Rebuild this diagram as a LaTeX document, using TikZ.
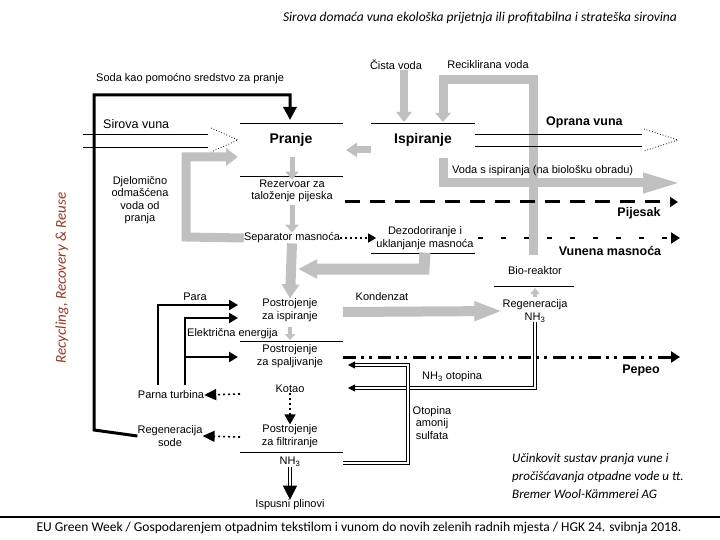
\documentclass[tikz,border=0pt]{standalone}
\usepackage{fontspec}
\setmainfont{Liberation Sans}
\newfontfamily\califont{Carlito}
\usepackage{tikz}
\usetikzlibrary{arrows.meta}
\usetikzlibrary{calc}
\definecolor{flowgray}{RGB}{192,192,192}
\definecolor{rrrcolor}{RGB}{150,55,40}

\begin{document}
\begin{tikzpicture}
[x=1pt,y=-1pt,
  lbl/.style={font=\fontsize{11}{12.5}\selectfont,inner sep=0pt,align=center},
  blbl/.style={font=\fontsize{12.5}{14}\selectfont\bfseries,inner sep=0pt},
  stage/.style={font=\fontsize{14}{16}\selectfont\bfseries,inner sep=0pt},
  boxline/.style={line width=0.9pt},
  grayline/.style={draw=flowgray,line width=#1},
  smallgray/.style={draw=flowgray,line width=5pt,-{Triangle[length=8pt,width=13pt]}},
  blackflow/.style={line width=2.5pt,-{Triangle[length=9pt,width=10pt]}},
  dotflow/.style={line width=1.6pt,dash pattern=on 2pt off 3pt,-{Triangle[length=12pt,width=11pt]}},
  twinline/.style={double,line width=0.8pt,double distance=1.6pt},
  sandflow/.style={line width=3pt,dash pattern=on 15pt off 10pt,-{Triangle[length=8pt,width=10pt]}},
  greaseflow/.style={line width=2pt,dash pattern=on 5pt off 18pt,-{Triangle[length=9pt,width=11pt]}},
  ashflow/.style={line width=3pt,dash pattern=on 13pt off 5pt on 3pt off 5pt on 3pt off 6pt,-{Triangle[length=9pt,width=11pt]}},
  woolline/.style={line width=0.9pt},
  woolhead/.style={dotted,line width=0.8pt}]
\useasboundingbox (0,0) rectangle (720,540);
%% headings
\node[font=\califont\itshape\fontsize{13.5}{15}\selectfont] (naslov) at (480,18)
  {Sirova domaća vuna ekološka prijetnja ili profitabilna i strateška sirovina};
\node[rotate=90,font=\califont\itshape\fontsize{15}{17}\selectfont,text=rrrcolor] (rrr) at (62,278)
  {Recycling, Recovery \& Reuse};
%% gray flows (drawn first)
\draw[grayline=9pt,-{Triangle[length=9pt,width=15pt]}] (533,255) -- (533,80) -- (443,80) -- (443,122);
\draw[grayline=9pt,-{Triangle[length=40pt,width=18pt]}] (443,158) -- (443,183) -- (683,183);
%% stages
\node[stage] (pranje) at (291,140) {Pranje};
\node[stage] (ispir) at (423,140) {Ispiranje};
\foreach \name/\x/\y/\txt in {
  rez/292/191/{Rezervoar za\\taloženje pijeska},
  separ/292/238/{Separator masnoća},
  dezod/425/238/{Dezodoriranje i\\uklanjanje masnoća},
  postisp/290/310/{Postrojenje\\za ispiranje},
  postspa/290/356/{Postrojenje\\za spaljivanje},
  kotao/290/389/{Kotao},
  postfil/290/436/{Postrojenje\\za filtriranje},
  nhtri/290/462/{NH\textsubscript{3}},
  plinovi/290/505/{Ispusni plinovi},
  bioreak/535/271/{Bio-reaktor},
  regnh/535/311/{Regeneracija\\NH\textsubscript{3}},
  turbina/171/395/{Parna turbina},
  regsoda/170/436/{Regeneracija\\sode},
  djelom/140/200/{Djelomično\\odmašćena\\voda od\\pranja},
  para/195/297/{Para},
  kondenz/382/297/{Kondenzat},
  cista/396/65/{Čista voda},
  recikl/488/65/{Reciklirana voda},
  otopina/432/423/{Otopina\\amonij\\sulfata}}
{
  \node[lbl] (\name) at (\x,\y) {\txt};
}
\node[lbl,anchor=west] (soda) at (96,79) {Soda kao pomoćno sredstvo za pranje};
\node[lbl,anchor=west] (elen) at (187,334) {Električna energija};
\node[lbl,anchor=west] (ispvoda) at (452,171) {Voda s ispiranja (na biološku obradu)};
\node[lbl,anchor=west] (nhotop) at (422,377) {NH\textsubscript{3} otopina};
\node[font=\fontsize{12.5}{14}\selectfont,inner sep=0pt,anchor=west] (sirova) at (103,124) {Sirova vuna};
\node[blbl,anchor=west] (oprana) at (546,122) {Oprana vuna};
\node[blbl] (pijesak) at (639,213) {Pijesak};
\node[blbl] (masnoca) at (610,251) {Vunena masnoća};
\node[blbl] (pepeo) at (641,370) {Pepeo};
%% box lines
\foreach \xa/\xb/\y in {240/343/123, 371/475/123, 240/343/176, 371/475/253,
  494/574/286, 240/343/341, 240/343/452}
{
  \draw[boxline] (\xa,\y) -- (\xb,\y);
}
%% gray flows between stages
\draw[grayline=8pt,-{Triangle[length=10pt,width=15pt]}] (cista.south -| 404,0) -- (404,122);
\draw[grayline=7pt,-{Triangle[length=11pt,width=14pt]}] (371,150) -- (346,150);
\draw[smallgray] (292,157) -- (rez.north);
\draw[smallgray] (rez.south) ++(0,3) -- (separ.north);
\draw[grayline=10pt,-{Triangle[length=14pt,width=17pt]}] (separ.south) -- (postisp.north);
\draw[grayline=9pt,-{Triangle[length=12pt,width=17pt]}] (separ.west) -- (186,237) -- (186,157) -- (238,157);
\draw[grayline=11pt,-{Triangle[length=19pt,width=18pt]}] (dezod.south) ++(0,3) -- (424,269) -- (298,269);
\draw[grayline=4pt,-{Triangle[length=6pt,width=10pt]}] (290,327) -- (290,340);
\draw[grayline=10pt,-{Triangle[length=28pt,width=18pt]}] (343,312) -- (regnh.west);
\draw[grayline=4pt,-{Triangle[length=6pt,width=9pt]}] (535,297) -- (535,288);
%% wool in and out
\draw[woolline] (83,134) -- (208,134) (83,147) -- (208,147);
\draw[woolhead] (211,128) -- (238,140) -- (211,152);
\draw[woolline] (475,134) -- (642,134) (475,146) -- (642,146);
\draw[woolhead] (644,129) -- (678,140) -- (644,151);
%% soda loop
\draw[line width=3pt,-{Triangle[length=13pt,width=13pt]}] (regsoda.west) -- (94,430) -- (94,95) -- (290,95) -- (290,120);
%% steam and electricity
\draw[blackflow] (158,385) -- (158,305) -- (238,305);
\draw[blackflow] (185,385) -- (185,318) -- (238,318);
\draw[blackflow] (185,357) -- (238,357);
%% dotted links
\draw[dotflow] (240,394) -- (turbina.east);
\draw[dotflow] (240,437) -- (regsoda.east);
\draw[dotflow,-{Triangle[length=10pt,width=11pt]}] (kotao.south) -- (postfil.north);
\draw[line width=1.4pt,dash pattern=on 2pt off 3pt,-{Triangle[length=8pt,width=9pt]}] (separ.east) -- (dezod.west |- separ.east);
%% ammonia loops
\draw[twinline,-{Triangle[length=7pt,width=7pt]}] (regnh.south) -- (535,388) -- (348,388);
\draw[twinline,-{Triangle[length=7pt,width=7pt]}] (343,463) -- (408,463) -- (408,365) -- (348,365);
\draw[twinline,line width=1pt,double distance=2.5pt,-{Triangle[length=14pt,width=14pt]}] (nhtri.south) -- (plinovi.north);
%% residues
\draw[sandflow] (345,202) -- (678,202);
\draw[greaseflow] (478,238) -- (680,238);
\draw[ashflow] (343,357) -- (680,357);
%% caption and footer
\node[font=\califont\itshape\fontsize{13}{18}\selectfont,align=left,inner sep=0pt,anchor=north west] (opis) at (512,453)
  {Učinkovit sustav pranja vune i\\pročišćavanja otpadne vode u tt.\\Bremer Wool-Kämmerei AG};
\draw[line width=1.2pt] (0,517) -- (720,517);
\node[font=\califont\fontsize{13.5}{16}\selectfont] (podnozje) at (359,528)
  {EU Green Week / Gospodarenjem otpadnim tekstilom i vunom do novih zelenih radnih mjesta / HGK 24. svibnja 2018.};
\end{tikzpicture}
\end{document}
